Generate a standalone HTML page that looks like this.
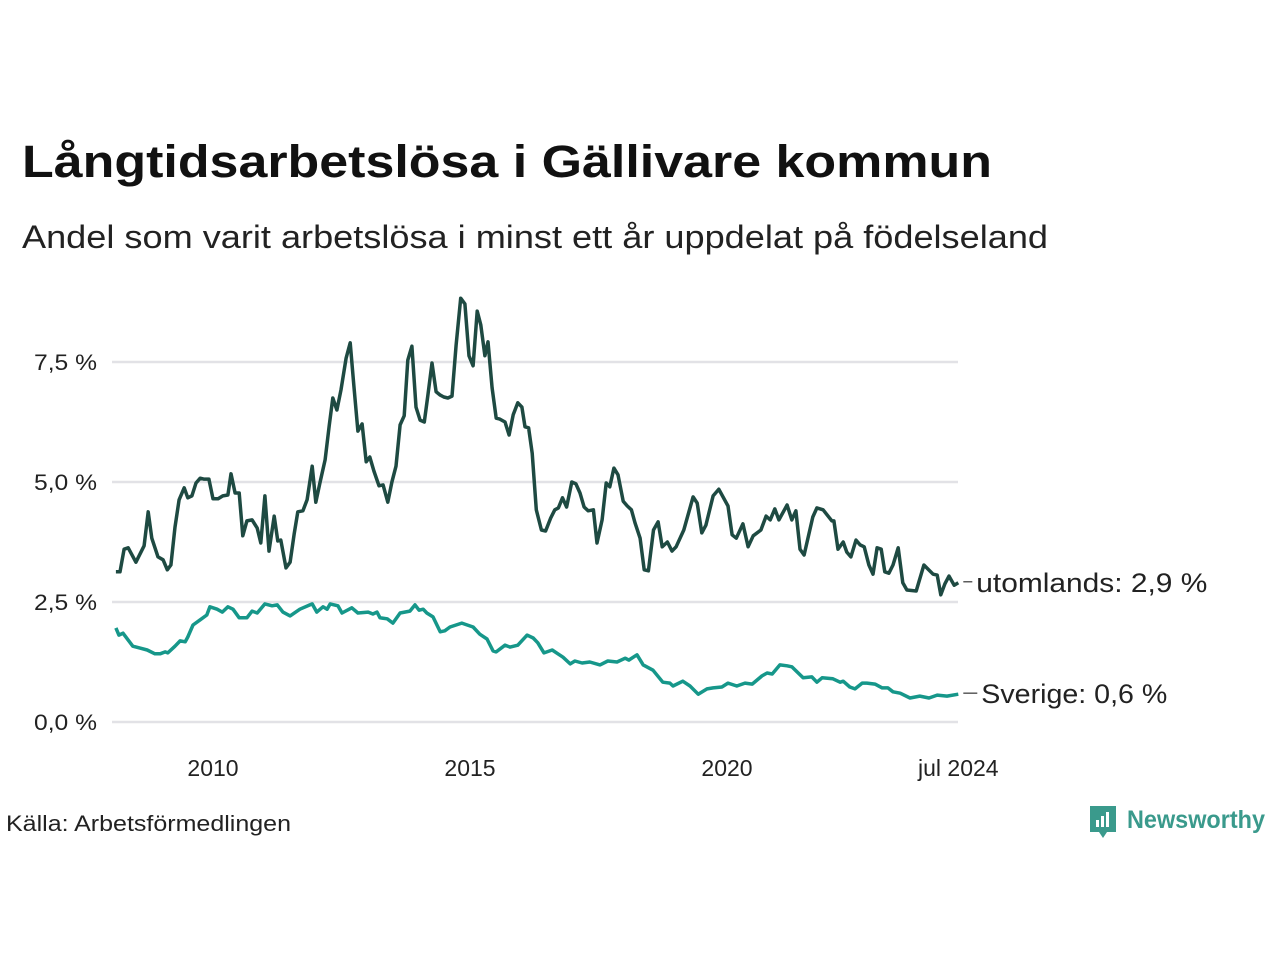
<!DOCTYPE html>
<html><head><meta charset="utf-8"><style>
body{margin:0;background:#fff;width:1280px;height:960px;overflow:hidden;font-family:"Liberation Sans",sans-serif}
</style></head><body>
<svg id="chart" width="1280" height="960" xmlns="http://www.w3.org/2000/svg" font-family="Liberation Sans, sans-serif">
<text x="22" y="177" font-size="45" font-weight="bold" fill="#111" textLength="970" lengthAdjust="spacingAndGlyphs">Långtidsarbetslösa i Gällivare kommun</text>
<text x="22" y="248" font-size="32" fill="#222" textLength="1026" lengthAdjust="spacingAndGlyphs">Andel som varit arbetslösa i minst ett år uppdelat på födelseland</text>
<g id="grid"></g><g id="lines"></g>
<text x="6" y="831" font-size="22" fill="#222" textLength="285" lengthAdjust="spacingAndGlyphs">Källa: Arbetsförmedlingen</text>
<g>
<path d="M1090 806 h26 v26 h-9 l-4 6 l-4 -6 h-9 z" fill="#3a9a8c"/>
<rect x="1096" y="820" width="3" height="7" fill="#fff"/><rect x="1101" y="816" width="3" height="11" fill="#fff"/><rect x="1106" y="812" width="3" height="15" fill="#fff"/>
<text x="1127" y="828" font-size="25" font-weight="bold" fill="#3a9a8c" textLength="138" lengthAdjust="spacingAndGlyphs">Newsworthy</text>
</g>
</svg>
<script>
const yTicks=[0,2.5,5,7.5];
const yTickLabels=["0,0 %","2,5 %","5,0 %","7,5 %"];
const xTicks=[2010,2015,2020,2024.5];
const xTickLabels=["2010","2015","2020","jul 2024"];
const utYears=[2008.11,2008.19,2008.27,2008.35,2008.50,2008.66,2008.74,2008.81,2008.93,2009.03,2009.11,2009.18,2009.26,2009.34,2009.44,2009.51,2009.59,2009.67,2009.75,2009.82,2009.92,2010.00,2010.10,2010.19,2010.29,2010.35,2010.43,2010.51,2010.58,2010.66,2010.76,2010.86,2010.93,2011.01,2011.09,2011.19,2011.26,2011.32,2011.42,2011.50,2011.58,2011.65,2011.75,2011.83,2011.93,2012.00,2012.08,2012.18,2012.26,2012.33,2012.41,2012.49,2012.59,2012.67,2012.74,2012.82,2012.90,2012.98,2013.05,2013.13,2013.23,2013.31,2013.40,2013.48,2013.56,2013.64,2013.72,2013.79,2013.87,2013.95,2014.03,2014.11,2014.18,2014.26,2014.34,2014.42,2014.49,2014.57,2014.65,2014.73,2014.82,2014.90,2014.98,2015.06,2015.14,2015.21,2015.29,2015.35,2015.43,2015.51,2015.58,2015.68,2015.76,2015.84,2015.93,2016.01,2016.07,2016.14,2016.21,2016.29,2016.39,2016.47,2016.57,2016.65,2016.72,2016.80,2016.88,2016.98,2017.06,2017.14,2017.22,2017.30,2017.40,2017.47,2017.57,2017.65,2017.72,2017.80,2017.88,2017.98,2018.06,2018.14,2018.21,2018.31,2018.39,2018.47,2018.57,2018.66,2018.74,2018.84,2018.93,2019.01,2019.16,2019.34,2019.42,2019.51,2019.59,2019.73,2019.84,2020.02,2020.10,2020.18,2020.31,2020.41,2020.51,2020.66,2020.76,2020.84,2020.93,2021.01,2021.17,2021.26,2021.34,2021.42,2021.50,2021.67,2021.75,2021.87,2022.04,2022.08,2022.16,2022.26,2022.33,2022.41,2022.51,2022.59,2022.67,2022.76,2022.84,2022.92,2023.00,2023.07,2023.15,2023.23,2023.33,2023.42,2023.50,2023.68,2023.83,2024.01,2024.09,2024.16,2024.24,2024.32,2024.42,2024.50];
const utValues=[3.13,3.13,3.60,3.63,3.33,3.67,4.38,3.83,3.44,3.38,3.17,3.27,4.06,4.63,4.88,4.67,4.71,4.98,5.08,5.06,5.06,4.65,4.65,4.71,4.73,5.17,4.77,4.77,3.88,4.19,4.21,4.04,3.73,4.71,3.56,4.29,3.77,3.79,3.21,3.33,3.92,4.38,4.40,4.63,5.33,4.58,4.98,5.46,6.17,6.75,6.50,6.92,7.58,7.90,7.02,6.06,6.21,5.42,5.52,5.23,4.92,4.94,4.58,5.00,5.33,6.19,6.38,7.54,7.83,6.56,6.29,6.25,6.81,7.48,6.88,6.81,6.77,6.75,6.79,7.85,8.83,8.71,7.63,7.42,8.56,8.27,7.63,7.92,6.96,6.33,6.31,6.25,5.98,6.40,6.65,6.56,6.15,6.13,5.60,4.42,4.00,3.98,4.25,4.42,4.46,4.67,4.48,5.00,4.96,4.77,4.48,4.40,4.42,3.73,4.21,4.98,4.90,5.29,5.15,4.60,4.50,4.42,4.15,3.83,3.17,3.15,4.00,4.17,3.65,3.75,3.56,3.65,4.00,4.69,4.56,3.94,4.10,4.71,4.85,4.50,3.90,3.83,4.13,3.65,3.88,4.00,4.29,4.21,4.44,4.21,4.52,4.21,4.40,3.60,3.48,4.27,4.46,4.42,4.19,4.19,3.60,3.75,3.54,3.44,3.79,3.69,3.65,3.27,3.08,3.63,3.60,3.13,3.10,3.27,3.63,2.90,2.75,2.73,3.27,3.08,3.06,2.65,2.88,3.04,2.85,2.90];
const svYears=[2008.11,2008.17,2008.25,2008.44,2008.58,2008.72,2008.87,2008.97,2009.07,2009.12,2009.26,2009.36,2009.46,2009.51,2009.61,2009.75,2009.88,2009.94,2010.08,2010.18,2010.29,2010.39,2010.51,2010.66,2010.76,2010.86,2011.01,2011.15,2011.25,2011.36,2011.50,2011.69,2011.93,2012.02,2012.14,2012.22,2012.28,2012.43,2012.51,2012.70,2012.82,2013.02,2013.11,2013.19,2013.25,2013.39,2013.50,2013.64,2013.83,2013.93,2014.01,2014.09,2014.16,2014.28,2014.42,2014.51,2014.61,2014.84,2015.06,2015.19,2015.33,2015.45,2015.51,2015.68,2015.78,2015.93,2016.11,2016.23,2016.32,2016.44,2016.60,2016.71,2016.81,2016.95,2017.04,2017.18,2017.33,2017.53,2017.68,2017.86,2018.02,2018.09,2018.25,2018.37,2018.56,2018.75,2018.89,2018.95,2019.14,2019.28,2019.44,2019.61,2019.73,2019.90,2020.02,2020.19,2020.35,2020.49,2020.68,2020.78,2020.88,2021.03,2021.17,2021.26,2021.48,2021.65,2021.75,2021.85,2022.06,2022.20,2022.26,2022.39,2022.49,2022.63,2022.72,2022.88,2023.02,2023.13,2023.23,2023.37,2023.56,2023.75,2023.93,2024.09,2024.28,2024.50];
const svValues=[1.96,1.81,1.85,1.58,1.54,1.50,1.42,1.42,1.46,1.44,1.58,1.69,1.67,1.77,2.02,2.13,2.23,2.40,2.35,2.29,2.40,2.35,2.17,2.17,2.31,2.27,2.46,2.42,2.44,2.29,2.21,2.35,2.46,2.29,2.40,2.35,2.46,2.42,2.27,2.38,2.27,2.29,2.25,2.29,2.17,2.15,2.06,2.27,2.31,2.44,2.33,2.35,2.27,2.19,1.88,1.90,1.98,2.06,1.98,1.83,1.73,1.48,1.46,1.60,1.56,1.60,1.81,1.75,1.65,1.44,1.50,1.42,1.35,1.21,1.27,1.23,1.25,1.19,1.27,1.25,1.33,1.29,1.40,1.19,1.08,0.83,0.81,0.75,0.85,0.75,0.58,0.69,0.71,0.73,0.81,0.75,0.81,0.79,0.96,1.02,1.00,1.19,1.17,1.15,0.92,0.94,0.83,0.92,0.90,0.83,0.85,0.73,0.69,0.81,0.81,0.79,0.71,0.71,0.63,0.60,0.50,0.54,0.50,0.56,0.54,0.58];
const seriesNames=["utomlands","Sverige"];
const lastLabels=["utomlands: 2,9 %","Sverige: 0,6 %"];

const NS="http://www.w3.org/2000/svg";
const X=t=>213+(t-2010)*51.4;
const Y=v=>722-v*48;
const grid=document.getElementById('grid'),lines=document.getElementById('lines');
function mk(tag,attrs,parent){const e=document.createElementNS(NS,tag);for(const k in attrs)e.setAttribute(k,attrs[k]);parent.appendChild(e);return e;}
yTicks.forEach((v,i)=>{
 const l=mk('line',{x1:112,x2:958,y1:Y(v),y2:Y(v),stroke:'#e2e2e6','stroke-width':2.5},grid);
 
 
 const t=mk('text',{x:97,y:Y(v)+8,'text-anchor':'end','font-size':22,fill:'#222',textLength:63,lengthAdjust:'spacingAndGlyphs'},grid);
 t.textContent=yTickLabels[i];
 
 
});
xTicks.forEach((v,i)=>{
 const t=mk('text',{x:X(v),y:776,'text-anchor':'middle','font-size':23,fill:'#222'},grid);
 t.textContent=xTickLabels[i];
 
 
});
const sets=[[utYears,utValues,'#1e4a42'],[svYears,svValues,'#16978a']];
const labelOffsets=[0,5];
const labelWidths=[231,186];
sets.forEach((s,k)=>{
 const d=s[0].map((t,i)=>(i?'L':'M')+X(t).toFixed(1)+' '+Y(s[1][i]).toFixed(1)).join(' ');
 const p=mk('path',{d:d,fill:'none',stroke:s[2],'stroke-width':3.5,'stroke-linejoin':'round'},lines);
 
 
 const lt=s[0][s[0].length-1],lv=s[1][s[1].length-1];
 mk('line',{x1:X(lt)+5,x2:X(lt)+14+labelOffsets[k],y1:Y(lv)-1,y2:Y(lv)-1,stroke:'#333','stroke-width':1.2},lines);
 const t=mk('text',{x:X(lt)+18+labelOffsets[k],y:Y(lv)+9,'font-size':27,fill:'#222',textLength:labelWidths[k],lengthAdjust:'spacingAndGlyphs'},lines);
 t.textContent=lastLabels[k];
 
 
});
</script>
</body></html>
